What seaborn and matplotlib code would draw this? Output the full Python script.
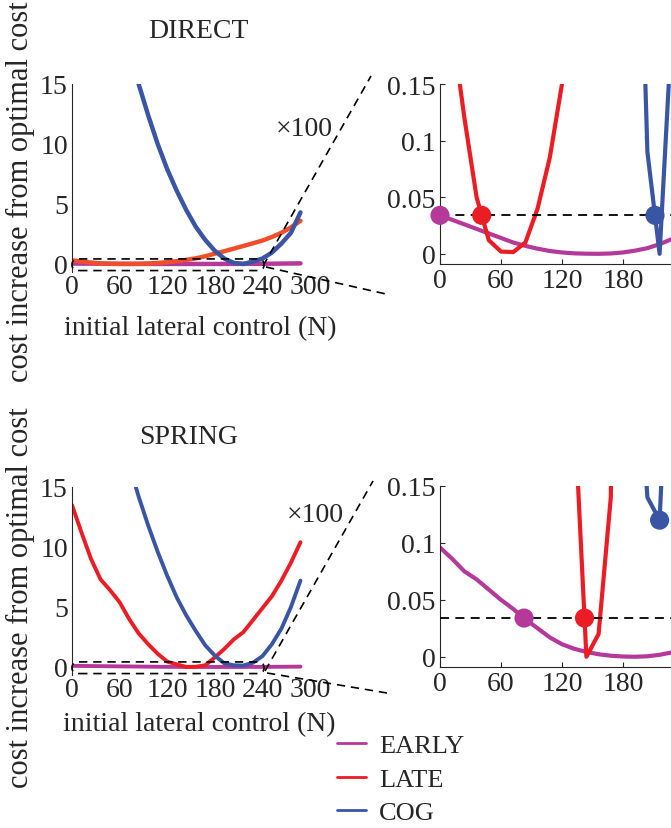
import matplotlib
matplotlib.use("Agg")
import numpy as np
import pandas as pd
import seaborn as sns
import matplotlib.pyplot as plt
from matplotlib.patches import FancyBboxPatch
from matplotlib.lines import Line2D
from matplotlib.ticker import FixedLocator, FixedFormatter

# ---------------- data ----------------
force = [0, 12, 24, 36, 48, 60, 72, 84, 96, 108, 120, 132, 144,
         156, 168, 180, 192, 204, 216, 228, 240, 252, 264, 276, 288]

direct_early = [0.034, 0.030, 0.026, 0.022, 0.018, 0.014, 0.010, 0.007, 0.0045,
                0.0025, 0.0012, 0.0004, 0.0001, 0.0, 0.0003, 0.0012, 0.0028,
                0.005, 0.0085, 0.013, 0.018, 0.024, 0.031, 0.039, 0.048]
direct_late = [0.30, 0.20, 0.12, 0.05, 0.012, 0.002, 0.0015, 0.010, 0.040, 0.085,
               0.15, 0.23, 0.34, 0.47, 0.64, 0.86, 1.06, 1.28, 1.50, 1.72, 1.95,
               2.25, 2.60, 3.05, 3.60]
direct_cog = [40.1, 35.8, 31.7, 27.9, 24.3, 20.9, 17.8, 15.0, 12.4, 10.0, 7.9,
              6.1, 4.5, 3.1, 2.0, 1.1, 0.45, 0.09, 0.0, 0.2, 0.45, 0.95, 1.7,
              2.6, 4.3]

spring_early = [0.096, 0.086, 0.075, 0.068, 0.059, 0.050, 0.042, 0.033, 0.025,
                0.017, 0.011, 0.007, 0.0042, 0.0022, 0.0009, 0.0002, 0.0, 0.0004,
                0.0017, 0.0038, 0.007, 0.011, 0.016, 0.022, 0.029]
spring_late = [13.5, 11.2, 9.0, 7.3, 6.4, 5.4, 4.0, 2.8, 1.9, 1.1, 0.45, 0.22,
               0.0, 0.02, 0.14, 0.8, 1.5, 2.3, 2.9, 3.9, 4.9, 5.9, 7.2, 8.7, 10.4]
spring_cog = [37.9, 33.8, 30.0, 26.4, 23.0, 19.8, 16.9, 14.2, 11.8, 9.6, 7.6,
              5.8, 4.3, 3.0, 1.8, 0.95, 0.3, 0.14, 0.12, 0.35, 0.9, 1.9, 3.2,
              5.0, 7.2]

strategies = ["EARLY", "LATE", "COG"]
threshold = 0.034
zoom_box_force = [0, 242]
zoom_box_cost = [-0.55, 0.42]

left_xticks = [0, 60, 120, 180, 240, 300]
left_yticks = [0, 5, 10, 15]
right_xticks = [0, 60, 120, 180]
right_yticks = [0, 0.05, 0.1, 0.15]
right_ytick_labels = ["0", "0.05", "0.1", "0.15"]

# ---------------- style ----------------
sns.set_style("ticks")
plt.rcParams["font.family"] = ["Liberation Serif", "DejaVu Serif"]
FS = 20
FS_YLAB = 22
FS_LEG = 19
MAG = "#B5399B"
RED = "#EC1C24"
ORANGE = "#F04E2A"
BLUE = "#3B55A5"

W, H = 671, 829
fig = plt.figure(figsize=(W / 100, H / 100), dpi=100)


def fbox(left, top, right, bottom):
    return [left / W, 1 - bottom / H, (right - left) / W, (bottom - top) / H]


def make_df(early, late, cog):
    return pd.DataFrame({
        "force": force * 3,
        "cost": early + late + cog,
        "strategy": ["EARLY"] * len(force) + ["LATE"] * len(force) + ["COG"] * len(force),
    })


def marker_points(df):
    xs, ys, cs = [], [], []
    for s in strategies:
        d = df[df.strategy == s]
        x = d.force.to_numpy(float)
        y = d.cost.to_numpy(float)
        idx = np.where(y <= threshold + 1e-12)[0]
        if len(idx) == 0:
            i = int(np.argmin(y))
            xs.append(x[i]); ys.append(y[i])
        else:
            i = idx[0]
            if i == 0:
                xs.append(x[0]); ys.append(threshold)
            else:
                t = (y[i - 1] - threshold) / (y[i - 1] - y[i])
                xs.append(x[i - 1] + t * (x[i] - x[i - 1])); ys.append(threshold)
        cs.append(s)
    return pd.DataFrame({"force": xs, "cost": ys, "strategy": cs})


def left_panel(rect, df, pal, lw):
    ax = fig.add_axes(fbox(*rect))
    sns.lineplot(data=df, x="force", y="cost", hue="strategy", hue_order=strategies,
                 palette=pal, linewidth=lw, legend=False, ax=ax,
                 estimator=None, sort=False)
    ax.set_xlim(0, 300)
    ax.set_ylim(-0.67, 15)
    ax.xaxis.set_major_locator(FixedLocator(left_xticks))
    ax.yaxis.set_major_locator(FixedLocator(left_yticks))
    ax.set_xticklabels([str(v) for v in left_xticks])
    ax.set_yticklabels([str(v) for v in left_yticks])
    for sp in ["top", "right", "bottom"]:
        ax.spines[sp].set_visible(False)
    ax.spines["left"].set_linewidth(0.8)
    ax.tick_params(axis="x", length=0, pad=1.5, labelsize=FS)
    ax.tick_params(axis="y", direction="in", length=0, pad=3, labelsize=FS)
    ax.set_xlabel(""); ax.set_ylabel("")
    ax.set_facecolor("none")
    box = FancyBboxPatch((zoom_box_force[0], zoom_box_cost[0]),
                         zoom_box_force[1] - zoom_box_force[0],
                         zoom_box_cost[1] - zoom_box_cost[0],
                         boxstyle="round,pad=0,rounding_size=9",
                         mutation_aspect=0.05, fill=False, edgecolor="black",
                         linewidth=1.2, linestyle=(0, (5, 3.5)), clip_on=False,
                         zorder=5)
    ax.add_patch(box)
    return ax


def right_panel(rect, df, pal):
    ax = fig.add_axes(fbox(*rect))
    sns.lineplot(data=df, x="force", y="cost", hue="strategy", hue_order=strategies,
                 palette=pal, linewidth=3, legend=False, ax=ax,
                 estimator=None, sort=False)
    ax.axhline(threshold, color="black", linewidth=1.3, linestyle=(0, (5, 3.5)), zorder=4)
    mk = marker_points(df)
    sns.scatterplot(data=mk, x="force", y="cost", hue="strategy", hue_order=strategies,
                    palette=pal, s=190, linewidth=0, legend=False, ax=ax,
                    zorder=6, clip_on=False)
    ax.set_xlim(0, 300)
    ax.set_ylim(-0.009, 0.15)
    ax.xaxis.set_major_locator(FixedLocator(right_xticks))
    ax.yaxis.set_major_locator(FixedLocator(right_yticks))
    ax.set_xticklabels([str(v) for v in right_xticks])
    ax.yaxis.set_major_formatter(FixedFormatter(right_ytick_labels))
    for sp in ["top", "right"]:
        ax.spines[sp].set_visible(False)
    for sp in ["left", "bottom"]:
        ax.spines[sp].set_linewidth(0.8)
    ax.tick_params(direction="in", length=3.5, width=0.8, pad=3, labelsize=FS)
    ax.set_xlabel(""); ax.set_ylabel("")
    ax.set_facecolor("none")
    return ax


df_direct = make_df(direct_early, direct_late, direct_cog)
df_spring = make_df(spring_early, spring_late, spring_cog)

pal_tl = {"EARLY": MAG, "LATE": ORANGE, "COG": BLUE}
pal = {"EARLY": MAG, "LATE": RED, "COG": BLUE}

left_panel((72, 85, 310, 273), df_direct, pal_tl, 3.2)
right_panel((440, 85, 745, 265), df_direct, pal)
left_panel((72, 488, 310, 676), df_spring, pal, 2.8)
right_panel((440, 487, 745, 668), df_spring, pal)

# ---------------- texts ----------------
def ftext(x, y, s, size=FS, **kw):
    fig.text(x / W, 1 - y / H, s, fontsize=size, ha="center", va="center", **kw)

ftext(198, 32, "DIRECT")
ftext(189, 437, "SPRING")
ftext(200, 329, "initial lateral control (N)")
ftext(199, 725, "initial lateral control (N)")
ftext(20, 192, "cost increase from optimal cost", size=FS_YLAB, rotation=90)
ftext(20, 598, "cost increase from optimal cost", size=FS_YLAB, rotation=90)
ftext(304, 129, "\u00d7100")
ftext(315, 516, "\u00d7100")

# connector dashed lines
for (x0, y0, x1, y1) in [(263, 267, 371, 77), (266, 268, 386, 295),
                         (265, 672, 373, 482), (267, 674, 387, 694)]:
    fig.add_artist(Line2D([x0 / W, x1 / W], [1 - y0 / H, 1 - y1 / H],
                          transform=fig.transFigure, color="black",
                          linewidth=1.2, linestyle=(0, (5, 3.5))))

# legend
handles = [Line2D([], [], color=c, linewidth=2) for c in [MAG, RED, BLUE]]
fig.legend(handles, strategies, loc="upper left",
           bbox_to_anchor=(337 / W, 1 - 735 / H), frameon=False, fontsize=FS_LEG,
           handlelength=1.1, handletextpad=0.5, labelspacing=0.38,
           borderpad=0, borderaxespad=0)

fig.savefig("out.png", dpi=100)
